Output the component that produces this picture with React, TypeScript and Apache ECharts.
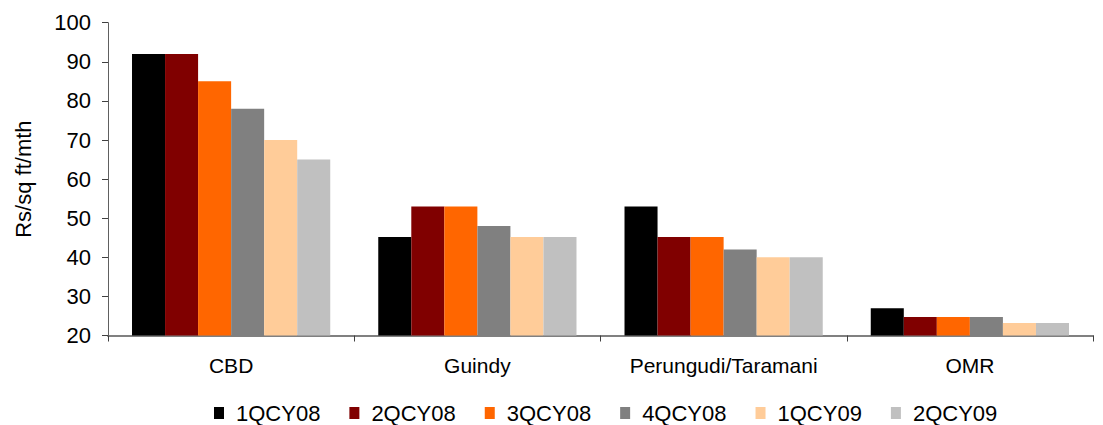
import React, { useEffect, useRef } from "react";
import * as echarts from "echarts";

const categories = ["CBD", "Guindy", "Perungudi/Taramani", "OMR"];
const seriesNames = ["1QCY08", "2QCY08", "3QCY08", "4QCY08", "1QCY09", "2QCY09"];
const q1cy08 = [92, 45.2, 53, 27];
const q2cy08 = [92, 53, 45.2, 24.7];
const q3cy08 = [85, 53, 45.2, 24.7];
const q4cy08 = [78, 48, 42, 24.7];
const q1cy09 = [70, 45.2, 40, 23.2];
const q2cy09 = [65, 45.2, 40, 23.2];
const seriesValues = [q1cy08, q2cy08, q3cy08, q4cy08, q1cy09, q2cy09];
const colors = ["#000000", "#800000", "#FF6600", "#808080", "#FFCC99", "#C0C0C0"];

const FONT = "'Liberation Sans', Arial, Helvetica, sans-serif";

export default function App() {
  const ref = useRef<HTMLDivElement>(null);

  useEffect(() => {
    document.body.style.margin = "0";
    if (!ref.current) return;
    const chart = echarts.init(ref.current, undefined, { renderer: "svg" });
    chart.setOption({
      animation: false,
      backgroundColor: "#ffffff",
      textStyle: { fontFamily: FONT, color: "#000" },
      grid: { left: 108, right: 10, top: 22.7, bottom: 89.5, containLabel: false },
      legend: {
        data: seriesNames,
        left: 214,
        top: 402,
        padding: 0,
        itemWidth: 10,
        itemHeight: 12,
        itemGap: 29,
        icon: "rect",
        formatter: (name: string) => `{gap|}${name}`,
        textStyle: {
          fontFamily: FONT,
          fontSize: 22,
          lineHeight: 20,
          color: "#000",
          rich: { gap: { width: 7, lineHeight: 20 } },
        },
      },
      xAxis: {
        type: "category",
        data: categories,
        axisLine: { lineStyle: { color: "#808080", width: 2 } },
        axisTick: { show: true, length: 6, lineStyle: { color: "#404040" } },
        axisLabel: { fontFamily: FONT, fontSize: 21, color: "#000", margin: 19 },
      },
      yAxis: {
        type: "value",
        min: 20,
        max: 100,
        interval: 10,
        name: "Rs/sq ft/mth",
        nameLocation: "middle",
        nameGap: 74,
        nameTextStyle: { fontFamily: FONT, fontSize: 22, color: "#000" },
        axisLine: { show: true, lineStyle: { color: "#606060", width: 1 } },
        axisTick: { show: true, length: 6, lineStyle: { color: "#404040" } },
        axisLabel: { fontFamily: FONT, fontSize: 22, color: "#000", margin: 17 },
        splitLine: { show: false },
      },
      series: seriesNames.map((name, i) => ({
        name,
        type: "bar",
        data: seriesValues[i],
        barGap: "0%",
        barCategoryGap: "19.5%",
        itemStyle: { color: colors[i] },
      })),
    });
    return () => chart.dispose();
  }, []);

  return <div ref={ref} style={{ width: 1103, height: 425 }} />;
}
